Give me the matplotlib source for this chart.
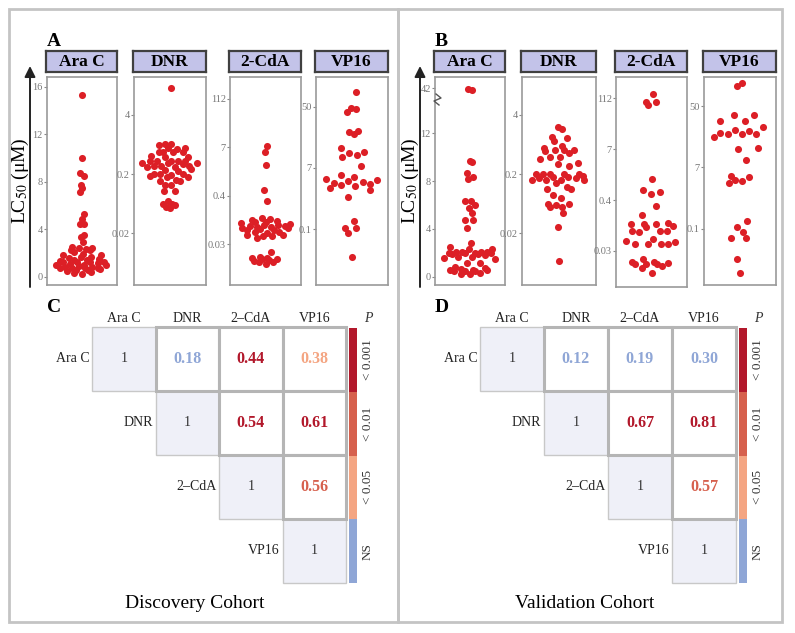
import numpy as np
import matplotlib
matplotlib.use('Agg')
import matplotlib.pyplot as plt
from matplotlib.patches import Rectangle
from matplotlib.ticker import NullLocator

plt.rcParams['font.family'] = ['Liberation Serif', 'DejaVu Serif']
plt.rcParams['mathtext.fontset'] = 'stix'

# LC50 values (uM)
a_arac = [15.3, 10.0, 8.7, 8.5, 7.7, 7.45, 7.1, 5.25, 4.9, 4.4, 4.4, 3.55, 3.35, 2.95,
          2.5, 2.45, 2.4, 2.35, 2.25, 2.25, 2.05, 1.95, 1.85, 1.8, 1.7, 1.7, 1.6, 1.5,
          1.4, 1.4, 1.3, 1.25, 1.25, 1.25, 1.2, 1.15, 1.1, 1.0, 1.0, 0.95, 0.9, 0.85,
          0.85, 0.75, 0.75, 0.7, 0.7, 0.65, 0.55, 0.55, 0.45, 0.4, 0.3, 0.2]
a_dnr = [13.2, 1.08, 1.07, 1.06, 0.91, 0.90, 0.89, 0.78, 0.77, 0.76, 0.76, 0.63, 0.62, 0.61,
         0.52, 0.51, 0.51, 0.50, 0.50, 0.47, 0.46, 0.46, 0.45, 0.41, 0.40, 0.40, 0.39, 0.39,
         0.35, 0.34, 0.33, 0.29, 0.28, 0.28, 0.27, 0.255, 0.25, 0.245, 0.215, 0.21, 0.205,
         0.175, 0.172, 0.135, 0.131, 0.085, 0.074, 0.073, 0.072, 0.064, 0.062]
a_cda = [7.7, 5.5, 2.5, 0.59, 0.32, 0.122, 0.115, 0.11, 0.105, 0.099, 0.095, 0.09, 0.086,
         0.083, 0.081, 0.078, 0.0755, 0.074, 0.071, 0.07, 0.067, 0.065, 0.062, 0.06, 0.054,
         0.053, 0.05, 0.046, 0.046, 0.044, 0.043, 0.039, 0.017, 0.0128, 0.0125, 0.0121,
         0.0118, 0.0116, 0.011, 0.0105, 0.01, 0.0096, 0.0087]
a_vp16 = [103, 46, 45.5, 37.5, 14.5, 13.6, 12.5, 6.2, 4.9, 4.7, 4.4, 3.9, 2.5, 1.56, 1.43,
          1.27, 1.2, 1.15, 1.07, 1.02, 0.97, 0.94, 0.9, 0.79, 0.73, 0.52, 0.153, 0.107,
          0.104, 0.08, 0.0245]

b_arac = [41, 40.7, 9.65, 9.6, 8.65, 8.3, 8.2, 6.35, 6.3, 6.0, 5.75, 5.3, 4.75, 4.75, 4.05,
          2.8, 2.5, 2.32, 2.32, 2.1, 2.09, 2.09, 2.05, 2.01, 2.0, 1.96, 1.95, 1.9, 1.9, 1.8,
          1.68, 1.62, 1.6, 1.45, 1.17, 1.12, 0.78, 0.7, 0.67, 0.6, 0.56, 0.56, 0.5, 0.5,
          0.5, 0.28, 0.22, 0.22]
b_dnr = [2.37, 2.14, 1.52, 1.41, 1.25, 1.0, 0.93, 0.84, 0.84, 0.82, 0.81, 0.72, 0.6, 0.6,
         0.55, 0.46, 0.45, 0.41, 0.285, 0.285, 0.285, 0.28, 0.28, 0.26, 0.253, 0.25, 0.234,
         0.234, 0.218, 0.218, 0.218, 0.215, 0.193, 0.161, 0.146, 0.146, 0.111, 0.099,
         0.073, 0.073, 0.071, 0.066, 0.066, 0.05, 0.027, 0.0058]
b_cda = [143, 93.7, 90, 78, 1.35, 0.74, 0.67, 0.62, 0.325, 0.191, 0.128, 0.119, 0.119,
         0.119, 0.108, 0.099, 0.08, 0.08, 0.08, 0.078, 0.052, 0.046, 0.0435, 0.041, 0.041,
         0.04, 0.04, 0.0181, 0.0154, 0.0151, 0.0145, 0.0137, 0.0137, 0.0137, 0.0121,
         0.0106, 0.0081]
b_vp16 = [158, 140, 31.7, 31.7, 23.8, 23.4, 17.5, 14.8, 14.1, 12.5, 11.9, 11.9, 11.9, 10.2,
          6.05, 5.56, 3.24, 1.44, 1.35, 1.17, 1.12, 0.99, 0.15, 0.11, 0.086, 0.064, 0.064,
          0.022, 0.0107]

# correlation matrices (upper triangle)
drugs = ['Ara C', 'DNR', '2–CdA', 'VP16']
pairs = [(0, 1), (0, 2), (0, 3), (1, 2), (1, 3), (2, 3)]
disc_r = [0.18, 0.44, 0.38, 0.54, 0.61, 0.56]
disc_p = [3, 0, 2, 0, 0, 1]
val_r = [0.12, 0.19, 0.30, 0.67, 0.81, 0.57]
val_p = [3, 3, 3, 0, 0, 1]
p_labels = ['< 0.001', '< 0.01', '< 0.05', 'NS']
p_colors = ['#b2182b', '#d6604d', '#f4a582', '#8fa6d6']

W, H = 795, 633
RED = '#dc1f26'
BRK, K = 13.0, 0.095   # axis break for Ara C in cohort B


def px_rect(l, t, r, b):
    return [l / W, 1 - b / H, (r - l) / W, (b - t) / H]


def vdc(n):
    v, d = 0.0, 1.0
    while n:
        d *= 2
        n, r = divmod(n, 2)
        v += r / d
    return v


def quasi_x(t, width=0.8):
    # quasirandom offsets scaled by local density (like ggbeeswarm)
    t = np.asarray(t, float)
    q75, q25 = np.percentile(t, [75, 25])
    sd = t.std(ddof=1)
    spread = min(sd, (q75 - q25) / 1.34) or sd
    bw = 0.8 * 0.9 * spread * len(t) ** -0.2
    dens = np.exp(-0.5 * ((t[:, None] - t[None, :]) / bw) ** 2).sum(axis=1)
    dens = dens / dens.max()
    offs = np.empty(len(t))
    for rank, i in enumerate(np.argsort(t, kind='stable')):
        offs[i] = (vdc(rank + 1) - 0.5) * 2
    return offs * width * dens


def brk_fwd(v):
    v = np.asarray(v, float)
    return np.where(v <= BRK, v, BRK + (v - BRK) * K)


def brk_inv(v):
    v = np.asarray(v, float)
    return np.where(v <= BRK, v, BRK + (v - BRK) / K)


scales = {
    'lin': (lambda v: np.asarray(v, float), lambda v: v),
    'log': (np.log10, lambda v: 10 ** v),
    'brk': (brk_fwd, brk_inv),
}

fig = plt.figure(figsize=(W / 100, H / 100), dpi=100)

# overlay in pixel coords for frames, arrows and labels
ov = fig.add_axes([0, 0, 1, 1])
ov.set_xlim(0, W)
ov.set_ylim(H, 0)
ov.axis('off')
ov.set_zorder(10)
ov.patch.set_visible(False)

for l, r in [(9, 398), (398, 782)]:
    ov.add_patch(Rectangle((l, 9), r - l, 613, fill=False, ec='#c4c4c4', lw=2))

strips = [
    ('Ara C', a_arac, 47, 117, 285, 'lin', (16, 86.7), (0, 276.7), [0, 4, 8, 12, 16], ['0', '4', '8', '12', '16']),
    ('DNR', a_dnr, 134, 206, 285, 'log', (4, 115), (0.02, 233.3), [0.02, 0.28, 4], ['0.02', '0.2', '4']),
    ('2-CdA', a_cda, 230, 301, 285, 'log', (112, 99), (0.02734, 244), [0.02734, 0.4375, 7, 112], ['0.03', '0.4', '7', '112']),
    ('VP16', a_vp16, 316, 388, 285, 'log', (50, 106.7), (0.1, 229), [0.1, 2.236, 50], ['0.1', '7', '50']),
    ('Ara C', b_arac, 435, 505, 285, 'brk', (42, 88.3), (0, 276.7), [0, 4, 8, 12, 42], ['0', '4', '8', '12', '42']),
    ('DNR', b_dnr, 522, 596, 285, 'log', (4, 115), (0.02, 233.3), [0.02, 0.28, 4], ['0.02', '0.2', '4']),
    ('2-CdA', b_cda, 616, 687, 287, 'log', (112, 98.3), (0.02734, 251), [0.02734, 0.4375, 7, 112], ['0.03', '0.4', '7', '112']),
    ('VP16', b_vp16, 704, 776, 285, 'log', (50, 106), (0.1, 228.7), [0.1, 2.236, 50], ['0.1', '7', '50']),
]

TOP = 77
for name, vals, x0, x1, bot, sc, hi_ref, lo_ref, ticks, tlabels in strips:
    fwd, inv = scales[sc]
    ax = fig.add_axes(px_rect(x0, TOP, x1, bot))
    if sc == 'log':
        ax.set_yscale('log')
    elif sc == 'brk':
        ax.set_yscale('function', functions=(brk_fwd, brk_inv))
    # limits so the reference ticks land where they sit in the figure
    f_hi, f_lo = float(fwd(hi_ref[0])), float(fwd(lo_ref[0]))
    k = (f_hi - f_lo) / (lo_ref[1] - hi_ref[1])
    ymax = f_hi + (hi_ref[1] - TOP) * k
    ymin = f_lo - (bot - lo_ref[1]) * k
    ax.set_ylim(float(inv(ymin)), float(inv(ymax)))
    ax.set_xlim(-1, 1)
    xs = quasi_x(fwd(vals))
    ax.scatter(xs, vals, s=26, c=RED, lw=0, zorder=3)
    ax.set_yticks(ticks)
    ax.set_yticklabels(tlabels)
    ax.yaxis.set_minor_locator(NullLocator())
    ax.set_xticks([])
    ax.tick_params(axis='y', length=2, width=0.8, color='#888888', labelcolor='#777777',
                   labelsize=7.5, pad=1)
    for s in ax.spines.values():
        s.set_color('#999999')
        s.set_linewidth(1.2)

    hx = fig.add_axes(px_rect(x0 - 1, 51, x1, 72))
    hx.set_facecolor('#c3c3e9')
    hx.set_xticks([])
    hx.set_yticks([])
    for s in hx.spines.values():
        s.set_color('#404040')
        s.set_linewidth(1.6)
    hx.text(0.5, 0.47, name, ha='center', va='center', fontsize=12.5, fontweight='bold',
            transform=hx.transAxes)

# y-axis arrows and labels
for ax_x, lab_x in [(30, 20), (420, 410)]:
    ov.annotate('', xy=(ax_x, 66), xytext=(ax_x, 287),
                arrowprops=dict(arrowstyle='-|>', color='#222222', lw=1.4,
                                mutation_scale=16, shrinkA=0, shrinkB=0))
    ov.text(lab_x, 181, 'LC$_{50}$ (μM)', rotation=90, ha='center', va='center',
            fontsize=14)

# axis break mark on cohort B Ara C
ov.plot([436, 441, 434, 439], [94, 98, 101, 105], color='#555555', lw=1)

for letter, x, y in [('A', 47, 41), ('B', 435, 41), ('C', 47, 307), ('D', 435, 307)]:
    ov.text(x, y, letter, fontsize=14, fontweight='bold', va='center', ha='left')


def draw_matrix(x0, x1, r_vals, p_vals, title, title_x):
    mx = fig.add_axes(px_rect(x0, 327, x1, 583))
    mx.set_xlim(0, 4)
    mx.set_ylim(4, 0)
    mx.axis('off')
    for i in range(4):
        mx.add_patch(Rectangle((i, i), 1, 1, fc='#eff0f8', ec='#c8c8c8', lw=1, clip_on=False))
        mx.text(i + 0.5, i + 0.5, '1', ha='center', va='center', fontsize=10, color='#333333')
        mx.text(i + 0.5, -0.13, drugs[i], ha='center', va='center', fontsize=10, color='#222222')
        mx.text(i - 0.04, i + 0.5, drugs[i], ha='right', va='center', fontsize=10, color='#222222')
    for (i, j), r, p in zip(pairs, r_vals, p_vals):
        mx.add_patch(Rectangle((j, i), 1, 1, fc='white', ec='#b5b5b5', lw=2.2, clip_on=False))
        mx.text(j + 0.5, i + 0.5, f'{r:.2f}', ha='center', va='center', fontsize=11.5,
                fontweight='bold', color=p_colors[p])

    cb_l = x1 + 3
    cx = fig.add_axes(px_rect(cb_l, 328, cb_l + 8, 583))
    cx.set_xlim(0, 1)
    cx.set_ylim(4, 0)
    cx.axis('off')
    for k_, (lab, col) in enumerate(zip(p_labels, p_colors)):
        cx.add_patch(Rectangle((0, k_), 1, 1, fc=col, ec='none'))
        ov.text(cb_l + 19, 328 + (k_ + 0.5) * 63.75, lab, rotation=90, ha='center',
                va='center', fontsize=9.5, color='#333333')
    ov.text(cb_l + 19, 318, 'P', ha='center', va='center', fontsize=10, style='italic',
            color='#333333')
    ov.text(title_x, 603, title, ha='center', va='center', fontsize=14)


draw_matrix(92, 346, disc_r, disc_p, 'Discovery Cohort', 195)
draw_matrix(480, 736, val_r, val_p, 'Validation Cohort', 585)

fig.savefig('out.png', dpi=100, facecolor='white')
